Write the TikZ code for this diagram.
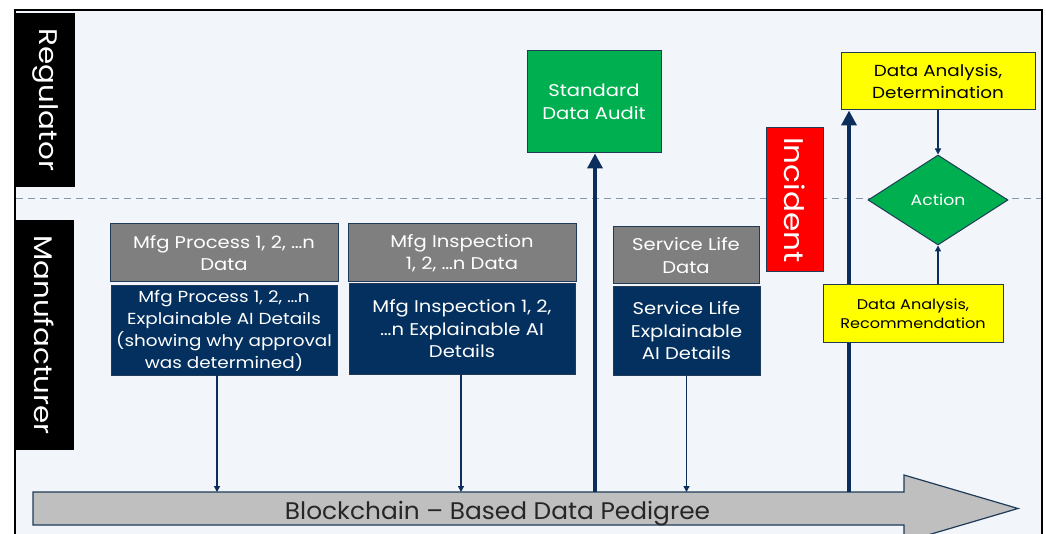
\documentclass[tikz,border=0pt]{standalone}
\usepackage{fontspec}
\setmainfont{Poppins}[FakeStretch=1.15]
\setsansfont{Poppins}[FakeStretch=1.15]
\usepackage{graphicx}
\usetikzlibrary{shapes.geometric,arrows.meta}

\definecolor{bgpanel}{HTML}{F2F6FA}
\definecolor{edgeblue}{HTML}{1F3B57}
\definecolor{navyfill}{HTML}{03305E}
\definecolor{linkblue}{HTML}{0B2E5C}
\definecolor{greyfill}{HTML}{7F7F7F}
\definecolor{arrowgrey}{HTML}{BFBFBF}
\definecolor{okgreen}{HTML}{00B050}
\definecolor{alertred}{HTML}{FF0000}
\definecolor{notey}{HTML}{FFFF00}
\definecolor{laneline}{HTML}{8797AC}
\definecolor{inktext}{HTML}{262626}

\tikzset{
  box/.style={draw=edgeblue, line width=1pt, inner sep=0pt, align=center,
    font=\fontsize{17}{22.5}\selectfont},
  databox/.style={box, fill=greyfill, text=white},
  xaibox/.style={box, fill=navyfill, text=white},
  auditbox/.style={box, fill=okgreen, text=white},
  notebox/.style={box, fill=notey, text=black},
  lanebox/.style={fill=black, inner sep=0pt, text=white,
    font=\fontsize{25.5}{30}\selectfont},
  thinlink/.style={draw=linkblue, line width=1.3pt,
    -{Triangle[width=6pt,length=6pt]}},
  thicklink/.style={draw=linkblue, line width=3.6pt,
    -{Triangle[width=15pt,length=15pt]}},
  laneedge/.style={draw=laneline, line width=0.9pt, dash pattern=on 7pt off 5pt},
}

\begin{document}
\begin{tikzpicture}[x=1pt, y=-1pt]
\useasboundingbox (0,0) rectangle (1046,534);

% panel and frame
\begin{scope}
  \clip (0,0) rectangle (1046,534);
  \fill[bgpanel] (15,10) rectangle (1042,545);
  \draw[line width=1.6pt] (15,545) -- (15,10) -- (1042,10) -- (1042,545);
\end{scope}

% lane separator
\draw[laneedge] (16,198) -- (1041,198);

% lane labels
\node[lanebox, minimum width=60pt, minimum height=174pt] (reg) at (45,100)
  {\rotatebox{-90}{Regulator}};
\node[lanebox, minimum width=59pt, minimum height=230pt] (man) at (44.5,335)
  {\rotatebox{-90}{Manufacturer}};

% pedigree arrow
\begin{scope}
  \clip (0,0) rectangle (1046,534);
  \draw[fill=arrowgrey, draw=edgeblue, line width=1.2pt]
    (33,492) -- (904,492) -- (904,475) -- (1018,508.5) -- (904,542)
    -- (904,525) -- (33,525) -- cycle;
\end{scope}
\node[font=\fontsize{24}{30}\selectfont, xscale=0.9, text=inktext,
  anchor=base] (chain) at (497.5,519)
  {Blockchain – Based Data Pedigree};
\coordinate (chaintop) at (0,492);

% manufacturer records
\node[databox, minimum width=228pt, minimum height=58pt] (proc) at (224,253)
  {Mfg Process 1, 2, …n\\Data};
\node[xaibox, minimum width=226pt, minimum height=90pt,
  font=\fontsize{16}{22}\selectfont] (procxai) at (224,330.5)
  {Mfg Process 1, 2, …n\\Explainable AI Details\\(showing why approval\\was determined)};

\node[databox, minimum width=228pt, minimum height=58pt] (insp) at (462,253)
  {Mfg Inspection\\1, 2, …n Data};
\node[xaibox, minimum width=226pt, minimum height=90pt] (inspxai) at (462,329)
  {Mfg Inspection 1, 2,\\…n Explainable AI\\Details};

\node[databox, minimum width=146pt, minimum height=57pt] (svc) at (686,255.5)
  {Service Life\\Data};
\node[xaibox, minimum width=147pt, minimum height=88pt] (svcxai) at (686.5,331)
  {Service Life\\Explainable\\AI Details};

% regulator side
\node[auditbox, minimum width=134pt, minimum height=102pt] (audit) at (594,102)
  {Standard\\Data Audit};

\node[box, fill=alertred, text=white, minimum width=57pt, minimum height=144pt,
  font=\fontsize{27}{34}\selectfont] (incident) at (794.5,200)
  {\rotatebox{-90}{Incident}};

\node[notebox, minimum width=194pt, minimum height=57pt,
  font=\fontsize{16}{21.5}\selectfont] (determ) at (938,81.5)
  {Data Analysis,\\Determination};

\node[diamond, draw=edgeblue, line width=1pt, fill=okgreen, text=white,
  inner sep=0pt, minimum width=140pt, minimum height=90pt,
  font=\fontsize{15}{19}\selectfont] (act) at (938,200) {Action};

% links into the pedigree
\coordinate (auditfoot) at (595,492);
\coordinate (incfoot) at (849,492);
\draw[thicklink] (auditfoot) -- (auditfoot |- audit.south);
\draw[thicklink] (incfoot) -- (incfoot |- determ.south);

\node[notebox, minimum width=180pt, minimum height=57pt,
  font=\fontsize{14}{19}\selectfont] (recomm) at (913,313.5)
  {Data Analysis,\\Recommendation};

\coordinate (procfoot) at (217,375);
\coordinate (inspfoot) at (461,374);
\draw[thinlink] (procfoot) -- (procfoot |- chaintop);
\draw[thinlink] (inspfoot) -- (inspfoot |- chaintop);
\draw[thinlink] (svcxai.south) -- (svcxai.south |- chaintop);

\draw[thinlink] (determ.south) -- (act.north);
\draw[thinlink] (act.south |- recomm.north) -- (act.south);

\end{tikzpicture}
\end{document}
